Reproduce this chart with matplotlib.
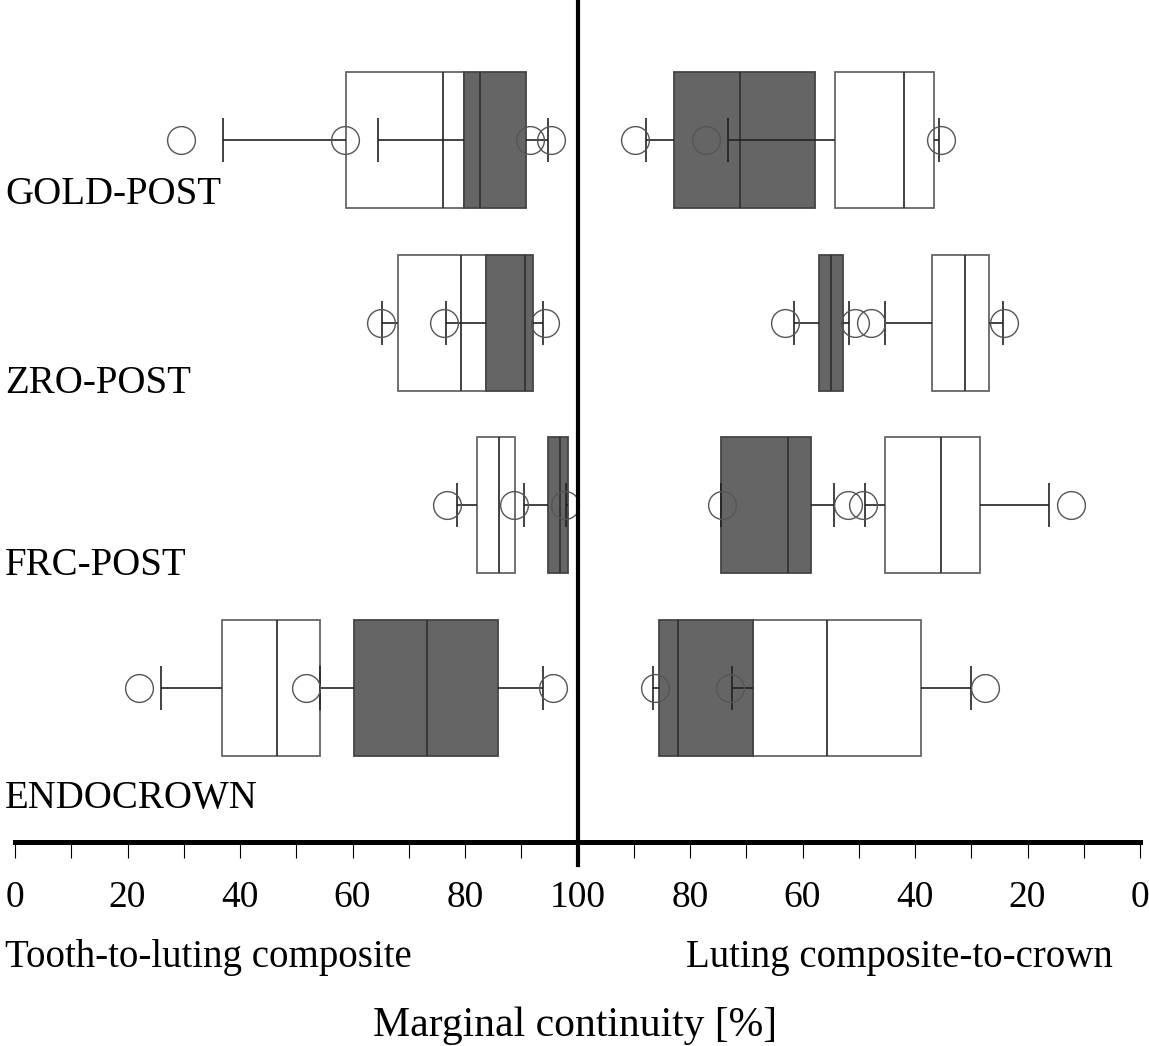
import numpy as np
import matplotlib
matplotlib.use('Agg')
import matplotlib.pyplot as plt

nan = np.nan

# groups, top to bottom
groups = ['GOLD-POST', 'ZRO-POST', 'FRC-POST', 'ENDOCROWN']
rows = [4, 3, 2, 1]

# tooth-to-luting composite (left half), white boxes
tl_white_lo = [58.8, 68.1, 82.1, 36.8]
tl_white_med = [76.0, 79.2, 86.1, 46.5]
tl_white_hi = [79.9, 83.8, 88.8, 54.2]
tl_white_wlo = [36.9, 65.3, 78.6, 25.9]
tl_white_whi = [nan, nan, nan, nan]
tl_white_pts = [[29.5], [65.1], [76.8], [22.0, 51.8]]
# tooth-to-luting composite (left half), dark boxes
tl_dark_lo = [79.9, 83.8, 94.8, 60.2]
tl_dark_med = [82.6, 90.6, 96.9, 73.3]
tl_dark_hi = [90.9, 92.0, 98.3, 85.8]
tl_dark_wlo = [64.5, 76.6, 90.4, 54.2]
tl_dark_whi = [94.8, 93.9, 98.0, 93.8]
tl_dark_pts = [[58.6, 91.5, 95.2], [76.3, 94.3], [88.7, 97.7], [95.7]]

# luting composite-to-crown (right half, mirrored), white boxes
lc_white_lo = [36.7, 26.9, 28.5, 38.9]
lc_white_med = [41.9, 31.2, 35.3, 55.6]
lc_white_hi = [54.2, 36.9, 45.3, 68.8]
lc_white_wlo = [35.7, 24.4, 16.2, 30.0]
lc_white_whi = [73.3, 45.3, 48.9, 72.6]
lc_white_pts = [[35.3, 77.2], [24.1, 47.8], [12.2, 49.2], [27.5, 72.9]]
# luting composite-to-crown, dark boxes
lc_dark_lo = [57.8, 52.8, 58.5, 68.8]
lc_dark_med = [71.1, 54.9, 62.6, 82.2]
lc_dark_hi = [82.9, 57.0, 74.5, 85.6]
lc_dark_wlo = [nan, 51.7, 54.4, nan]
lc_dark_whi = [87.9, 61.5, 74.5, 86.6]
lc_dark_pts = [[89.7], [50.6, 63.1], [52.0, 74.3], [86.3]]

plt.rcParams['font.family'] = ['Liberation Serif', 'DejaVu Serif']
FS = 28
BOX_H = 0.745
CAP_H = 0.24
W, H = 1149, 1046

fig = plt.figure(figsize=(W / 100, H / 100), dpi=100)
ax = fig.add_axes([15 / W, (H - 842) / H, 1125 / W, 842 / H])


def draw(y, lo, med, hi, wlo, whi, pts, face, edge, z, mirror):
    f = (lambda v: 200 - np.asarray(v, float)) if mirror else (lambda v: np.asarray(v, float))
    y = np.asarray(y, float)
    a, b = f(lo), f(hi)
    ax.barh(y, np.abs(b - a), left=np.minimum(a, b), height=BOX_H,
            color=face, edgecolor=edge, linewidth=1.3, zorder=z)
    ax.vlines(f(med), y - BOX_H / 2, y + BOX_H / 2, colors='#333333', lw=1.3, zorder=z + 0.1)
    for edge_v, w in ((lo, wlo), (hi, whi)):
        e, w = f(edge_v), f(w)
        ok = ~np.isnan(w)
        ax.hlines(y[ok], e[ok], w[ok], colors='#222222', lw=1.2, zorder=3)
        ax.vlines(w[ok], y[ok] - CAP_H / 2, y[ok] + CAP_H / 2, colors='#222222', lw=1.2, zorder=3)
    for yy, p in zip(y, pts):
        ax.plot(f(p), [yy] * len(p), 'o', ms=20, mfc='none', mec='#555555', mew=1.0, zorder=4)


draw(rows, tl_white_lo, tl_white_med, tl_white_hi, tl_white_wlo, tl_white_whi, tl_white_pts,
     'white', '#666666', 1, False)
draw(rows, tl_dark_lo, tl_dark_med, tl_dark_hi, tl_dark_wlo, tl_dark_whi, tl_dark_pts,
     '#656565', '#444444', 2, False)
draw(rows, lc_white_lo, lc_white_med, lc_white_hi, lc_white_wlo, lc_white_whi, lc_white_pts,
     'white', '#666666', 1, True)
draw(rows, lc_dark_lo, lc_dark_med, lc_dark_hi, lc_dark_wlo, lc_dark_whi, lc_dark_pts,
     '#656565', '#444444', 2, True)

ax.set_xlim(0, 200)
ax.set_ylim(0.157, 4.766)
ticks = np.arange(0, 201, 20)
ax.set_xticks(ticks)
ax.set_xticklabels([str(int(t if t <= 100 else 200 - t)) for t in ticks])
ax.set_xticks(np.arange(10, 200, 20), minor=True)
ax.set_yticks([])
ax.tick_params(axis='x', which='both', direction='out', length=11.5, width=0.8,
               labelsize=27, pad=16)
for s in ['top', 'left', 'right']:
    ax.spines[s].set_visible(False)
ax.spines['bottom'].set_linewidth(3.6)
ax.axvline(100, ymin=-23 / 842, ymax=1, color='black', lw=3, clip_on=False, zorder=5)

# row labels (baseline in pixels from top)
label_base = [204, 393, 575, 808]
for name, yb in zip(groups, label_base):
    fig.text(5 / W, 1 - yb / H, name, fontsize=FS, ha='left', va='baseline')

fig.text(5 / W, 1 - 967 / H, 'Tooth-to-luting composite', fontsize=FS, ha='left', va='baseline')
fig.text(1113 / W, 1 - 967 / H, 'Luting composite-to-crown', fontsize=FS, ha='right', va='baseline')
fig.text(575 / W, 1 - 1036 / H, 'Marginal continuity [%]', fontsize=30, ha='center', va='baseline')

fig.savefig('out.png', dpi=100)
